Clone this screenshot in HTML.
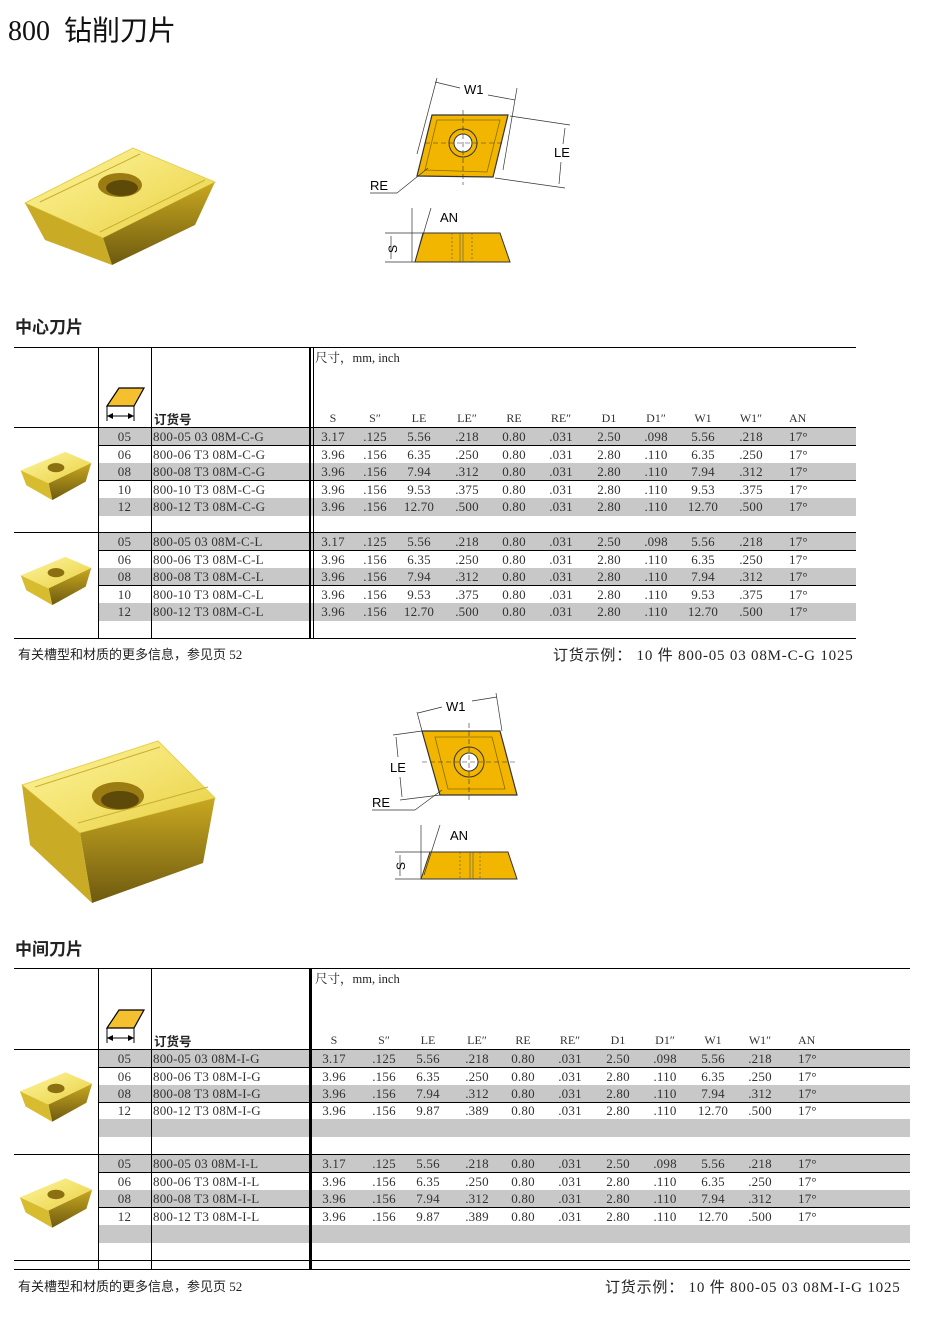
<!DOCTYPE html>
<html><head><meta charset="utf-8">
<style>
*{margin:0;padding:0;box-sizing:border-box}
body{width:938px;height:1325px;background:#fff;position:relative;overflow:hidden;font-family:"Liberation Serif","Noto Serif CJK SC",serif;color:#222}
.a{position:absolute}
.hl{position:absolute;height:1px;background:#000;z-index:5}
.vl{position:absolute;width:1px;background:#000;z-index:5}
.row{position:absolute;left:98px;height:18px;border-bottom:1px solid #000;font-size:13px;line-height:17px;font-family:"Liberation Serif",serif;letter-spacing:0.2px;color:#333}
.g{background:#c8c8c8}
.row span{position:absolute;top:0;width:50px;text-align:center;white-space:nowrap}
.row span.sz{left:0;width:53px}
.row span.cd{left:55px;width:auto;text-align:left}
.t1 .c1{left:210px}.t1 .c2{left:252px}.t1 .c3{left:296px}.t1 .c4{left:344px}.t1 .c5{left:391px}.t1 .c6{left:438px}.t1 .c7{left:486px}.t1 .c8{left:533px}.t1 .c9{left:580px}.t1 .c10{left:628px}.t1 .c11{left:691px;text-align:left}
.t2 .c1{left:211px}.t2 .c2{left:261px}.t2 .c3{left:305px}.t2 .c4{left:354px}.t2 .c5{left:400px}.t2 .c6{left:447px}.t2 .c7{left:495px}.t2 .c8{left:542px}.t2 .c9{left:590px}.t2 .c10{left:637px}.t2 .c11{left:700px;text-align:left}
.hdr{position:absolute;font-size:12.5px}
.hrow{font-family:"Liberation Serif",serif;letter-spacing:0;font-size:12px}
.sec{position:absolute;left:15px;font-family:"Liberation Sans","Noto Sans CJK SC",sans-serif;font-weight:bold;font-size:17px}
.ft{position:absolute;font-size:13px;font-family:"Liberation Serif","Noto Sans CJK SC",serif}
</style></head><body>
<svg width="0" height="0" style="position:absolute">
<defs>
<linearGradient id="gt" x1="0" y1="0" x2="1" y2="1"><stop offset="0" stop-color="#fff6a0"/><stop offset="1" stop-color="#e8d040"/></linearGradient>
<linearGradient id="gf" x1="0" y1="0" x2="0" y2="1"><stop offset="0" stop-color="#c8a820"/><stop offset="1" stop-color="#6e5a10"/></linearGradient>
<symbol id="ins" viewBox="0 0 80 56">
<polygon points="2,22 50,2 78,14 32,36" fill="url(#gt)"/>
<polygon points="32,36 78,14 72,34 36,54" fill="url(#gf)"/>
<polygon points="2,22 32,36 36,54 8,38" fill="#d8bc30"/>
<ellipse cx="40" cy="19" rx="9" ry="5" fill="#8a7010"/>
</symbol>
</defs></svg>

<div class="a" style="left:8px;top:9px;font-size:28px;font-family:'Liberation Serif','Noto Sans CJK SC',serif;color:#111">800&nbsp; <span style="font-family:'Noto Sans CJK SC',sans-serif;font-weight:400">钻削刀片</span></div>

<!-- big insert 1 -->
<svg class="a" style="left:0;top:140px" width="230" height="135">
<polygon points="25,63 133,8 215,42 103,98" fill="url(#gt)" stroke="#e8d050"/>
<polygon points="103,98 215,42 195,85 112,125" fill="url(#gf)"/>
<polygon points="25,63 103,98 112,125 45,100" fill="#c9ab25"/>
<line x1="40" y1="62" x2="140" y2="14" stroke="#c8b030"/>
<line x1="100" y1="92" x2="205" y2="40" stroke="#c8b030"/>
<ellipse cx="120" cy="45" rx="22" ry="12" fill="#9a7c12"/>
<ellipse cx="122" cy="48" rx="16" ry="8" fill="#5e4a08"/>
</svg>

<!-- diagram 1 -->
<svg class="a" style="left:360px;top:70px" width="240" height="210" font-family="Liberation Sans,sans-serif" font-size="13">
<polygon points="57,106 72,45 148,45 133,107" fill="#f2b600" stroke="#333" stroke-width="1.2"/>
<polygon points="65,100 77,50 140,50 127,102" fill="none" stroke="#8a6a00" stroke-width="0.8"/>
<circle cx="103" cy="73" r="14" fill="#f2b600" stroke="#333"/>
<circle cx="103" cy="73" r="9" fill="#fff" stroke="#333"/>
<line x1="65" y1="73" x2="145" y2="73" stroke="#333" stroke-dasharray="5,3" stroke-width="0.6"/>
<line x1="103" y1="40" x2="103" y2="115" stroke="#333" stroke-dasharray="5,3" stroke-width="0.6"/>
<line x1="57" y1="84" x2="77" y2="8" stroke="#333" stroke-width="0.7"/>
<line x1="143" y1="100" x2="157" y2="18" stroke="#333" stroke-width="0.7"/>
<line x1="75" y1="12" x2="100" y2="18" stroke="#333" stroke-width="0.7"/>
<line x1="128" y1="25" x2="155" y2="30" stroke="#333" stroke-width="0.7"/>
<text x="104" y="24">W1</text>
<line x1="150" y1="46" x2="210" y2="55" stroke="#333" stroke-width="0.7"/>
<line x1="135" y1="108" x2="205" y2="118" stroke="#333" stroke-width="0.7"/>
<line x1="205" y1="58" x2="203" y2="74" stroke="#333" stroke-width="0.7"/>
<line x1="201" y1="92" x2="199" y2="114" stroke="#333" stroke-width="0.7"/>
<text x="194" y="87">LE</text>
<text x="10" y="120">RE</text>
<line x1="10" y1="123" x2="37" y2="123" stroke="#333" stroke-width="0.7"/>
<line x1="37" y1="123" x2="68" y2="98" stroke="#333" stroke-width="0.7"/>
<polygon points="55,192 63,163 140,163 150,192" fill="#f2b600" stroke="#333"/>
<line x1="92" y1="163" x2="92" y2="192" stroke="#555" stroke-dasharray="2,2" stroke-width="0.6"/>
<line x1="112" y1="163" x2="112" y2="192" stroke="#555" stroke-dasharray="2,2" stroke-width="0.6"/>
<line x1="100" y1="163" x2="100" y2="192" stroke="#555" stroke-width="0.6"/>
<line x1="103" y1="163" x2="103" y2="192" stroke="#555" stroke-width="0.6"/>
<line x1="52" y1="138" x2="52" y2="192" stroke="#333" stroke-width="0.7"/>
<line x1="55" y1="192" x2="71" y2="138" stroke="#333" stroke-width="0.7"/>
<text x="80" y="152">AN</text>
<line x1="25" y1="163" x2="65" y2="163" stroke="#333" stroke-width="0.7"/>
<line x1="25" y1="192" x2="55" y2="192" stroke="#333" stroke-width="0.7"/>
<line x1="31" y1="166" x2="31" y2="189" stroke="#333" stroke-width="0.7"/>
<text x="26" y="184" font-size="12" transform="rotate(-90 31 178)">S</text>
</svg>

<div class="sec" style="top:313px">中心刀片</div>

<!-- table 1 lines -->
<div class="hl" style="left:14px;top:347px;width:842px"></div>
<div class="hl" style="left:14px;top:427px;width:842px"></div>
<div class="hl" style="left:14px;top:532px;width:842px"></div>
<div class="hl" style="left:14px;top:638px;width:842px"></div>
<div class="vl" style="left:98px;top:347px;height:291px"></div>
<div class="vl" style="left:151px;top:347px;height:291px"></div>
<div class="vl" style="left:309px;top:347px;height:291px;width:2px"></div>
<div class="vl" style="left:313px;top:347px;height:291px;width:1px"></div>
<svg class="a" style="left:103px;top:382px" width="44" height="40">
<polygon points="4,24 16,6 41,6 31,24" fill="#f5c030" stroke="#000" stroke-width="1.2"/>
<line x1="4" y1="24" x2="4" y2="39" stroke="#000"/><line x1="31" y1="24" x2="31" y2="39" stroke="#000"/>
<line x1="4" y1="34" x2="31" y2="34" stroke="#000"/>
<polygon points="4,34 10,31 10,37" fill="#000"/><polygon points="31,34 25,31 25,37" fill="#000"/>
</svg>
<div class="hdr" style="left:154px;top:409px;font-weight:bold;font-family:'Noto Sans CJK SC',sans-serif">订货号</div>
<div class="hdr" style="left:315px;top:348px;font-family:'Liberation Serif','Noto Serif CJK SC',serif">尺寸，mm, inch</div>
<div class="row t1 hrow" style="top:410px;border:none;background:none"><span class="c1">S</span><span class="c2">S″</span><span class="c3">LE</span><span class="c4">LE″</span><span class="c5">RE</span><span class="c6">RE″</span><span class="c7">D1</span><span class="c8">D1″</span><span class="c9">W1</span><span class="c10">W1″</span><span class="c11">AN</span></div>

<div class="row t1 g" style="top:428px;width:758px"><span class="sz">05</span><span class="cd">800-05 03 08M-C-G</span><span class="c1">3.17</span><span class="c2">.125</span><span class="c3">5.56</span><span class="c4">.218</span><span class="c5">0.80</span><span class="c6">.031</span><span class="c7">2.50</span><span class="c8">.098</span><span class="c9">5.56</span><span class="c10">.218</span><span class="c11">17°</span></div>
<div class="row t1" style="top:446px;width:758px"><span class="sz">06</span><span class="cd">800-06 T3 08M-C-G</span><span class="c1">3.96</span><span class="c2">.156</span><span class="c3">6.35</span><span class="c4">.250</span><span class="c5">0.80</span><span class="c6">.031</span><span class="c7">2.80</span><span class="c8">.110</span><span class="c9">6.35</span><span class="c10">.250</span><span class="c11">17°</span></div>
<div class="row t1 g" style="top:463px;width:758px"><span class="sz">08</span><span class="cd">800-08 T3 08M-C-G</span><span class="c1">3.96</span><span class="c2">.156</span><span class="c3">7.94</span><span class="c4">.312</span><span class="c5">0.80</span><span class="c6">.031</span><span class="c7">2.80</span><span class="c8">.110</span><span class="c9">7.94</span><span class="c10">.312</span><span class="c11">17°</span></div>
<div class="row t1" style="top:481px;width:758px"><span class="sz">10</span><span class="cd">800-10 T3 08M-C-G</span><span class="c1">3.96</span><span class="c2">.156</span><span class="c3">9.53</span><span class="c4">.375</span><span class="c5">0.80</span><span class="c6">.031</span><span class="c7">2.80</span><span class="c8">.110</span><span class="c9">9.53</span><span class="c10">.375</span><span class="c11">17°</span></div>
<div class="row t1 g" style="top:498px;width:758px;border:none"><span class="sz">12</span><span class="cd">800-12 T3 08M-C-G</span><span class="c1">3.96</span><span class="c2">.156</span><span class="c3">12.70</span><span class="c4">.500</span><span class="c5">0.80</span><span class="c6">.031</span><span class="c7">2.80</span><span class="c8">.110</span><span class="c9">12.70</span><span class="c10">.500</span><span class="c11">17°</span></div>

<div class="row t1 g" style="top:533px;width:758px"><span class="sz">05</span><span class="cd">800-05 03 08M-C-L</span><span class="c1">3.17</span><span class="c2">.125</span><span class="c3">5.56</span><span class="c4">.218</span><span class="c5">0.80</span><span class="c6">.031</span><span class="c7">2.50</span><span class="c8">.098</span><span class="c9">5.56</span><span class="c10">.218</span><span class="c11">17°</span></div>
<div class="row t1" style="top:551px;width:758px"><span class="sz">06</span><span class="cd">800-06 T3 08M-C-L</span><span class="c1">3.96</span><span class="c2">.156</span><span class="c3">6.35</span><span class="c4">.250</span><span class="c5">0.80</span><span class="c6">.031</span><span class="c7">2.80</span><span class="c8">.110</span><span class="c9">6.35</span><span class="c10">.250</span><span class="c11">17°</span></div>
<div class="row t1 g" style="top:568px;width:758px"><span class="sz">08</span><span class="cd">800-08 T3 08M-C-L</span><span class="c1">3.96</span><span class="c2">.156</span><span class="c3">7.94</span><span class="c4">.312</span><span class="c5">0.80</span><span class="c6">.031</span><span class="c7">2.80</span><span class="c8">.110</span><span class="c9">7.94</span><span class="c10">.312</span><span class="c11">17°</span></div>
<div class="row t1" style="top:586px;width:758px"><span class="sz">10</span><span class="cd">800-10 T3 08M-C-L</span><span class="c1">3.96</span><span class="c2">.156</span><span class="c3">9.53</span><span class="c4">.375</span><span class="c5">0.80</span><span class="c6">.031</span><span class="c7">2.80</span><span class="c8">.110</span><span class="c9">9.53</span><span class="c10">.375</span><span class="c11">17°</span></div>
<div class="row t1 g" style="top:603px;width:758px;border:none"><span class="sz">12</span><span class="cd">800-12 T3 08M-C-L</span><span class="c1">3.96</span><span class="c2">.156</span><span class="c3">12.70</span><span class="c4">.500</span><span class="c5">0.80</span><span class="c6">.031</span><span class="c7">2.80</span><span class="c8">.110</span><span class="c9">12.70</span><span class="c10">.500</span><span class="c11">17°</span></div>

<svg class="a" style="left:18px;top:450px" width="76" height="52"><use href="#ins" width="76" height="52"/></svg>
<svg class="a" style="left:18px;top:555px" width="76" height="52"><use href="#ins" width="76" height="52"/></svg>

<div class="ft" style="left:18px;top:644px">有关槽型和材质的更多信息，参见页 52</div>
<div class="ft" style="left:553px;top:644px;font-size:15px;letter-spacing:0.8px">订货示例： 10 件 800-05 03 08M-C-G 1025</div>

<!-- big insert 2 -->
<svg class="a" style="left:0;top:735px" width="230" height="175">
<polygon points="22,50 158,6 215,63 80,98" fill="url(#gt)" stroke="#e8d050"/>
<polygon points="80,98 215,63 203,128 92,168" fill="url(#gf)"/>
<polygon points="22,50 80,98 92,168 30,110" fill="#c9ab25"/>
<line x1="35" y1="52" x2="160" y2="12" stroke="#c8b030"/>
<line x1="78" y1="88" x2="208" y2="52" stroke="#c8b030"/>
<ellipse cx="118" cy="61" rx="26" ry="14" fill="#9a7c12"/>
<ellipse cx="120" cy="65" rx="19" ry="9" fill="#5e4a08"/>
</svg>

<!-- diagram 2 -->
<svg class="a" style="left:360px;top:685px" width="180" height="200" font-family="Liberation Sans,sans-serif" font-size="13">
<polygon points="62,46 140,46 157,110 80,110" fill="#f2b600" stroke="#333" stroke-width="1.2"/>
<polygon points="75,52 132,52 145,104 88,104" fill="none" stroke="#8a6a00" stroke-width="0.8"/>
<circle cx="109" cy="77" r="15" fill="#f2b600" stroke="#333"/>
<circle cx="109" cy="77" r="9" fill="#fff" stroke="#333"/>
<line x1="62" y1="77" x2="158" y2="77" stroke="#333" stroke-dasharray="5,3" stroke-width="0.6"/>
<line x1="109" y1="38" x2="109" y2="115" stroke="#333" stroke-dasharray="5,3" stroke-width="0.6"/>
<line x1="57" y1="27" x2="62" y2="46" stroke="#333" stroke-width="0.7"/>
<line x1="136" y1="8" x2="142" y2="46" stroke="#333" stroke-width="0.7"/>
<line x1="58" y1="28" x2="82" y2="22" stroke="#333" stroke-width="0.7"/>
<line x1="112" y1="16" x2="137" y2="12" stroke="#333" stroke-width="0.7"/>
<text x="86" y="26">W1</text>
<line x1="33" y1="50" x2="62" y2="46" stroke="#333" stroke-width="0.7"/>
<line x1="40" y1="115" x2="80" y2="110" stroke="#333" stroke-width="0.7"/>
<line x1="36" y1="52" x2="38" y2="72" stroke="#333" stroke-width="0.7"/>
<line x1="40" y1="92" x2="42" y2="112" stroke="#333" stroke-width="0.7"/>
<text x="30" y="87">LE</text>
<text x="12" y="122">RE</text>
<line x1="12" y1="125" x2="55" y2="125" stroke="#333" stroke-width="0.7"/>
<line x1="55" y1="125" x2="82" y2="105" stroke="#333" stroke-width="0.7"/>
<polygon points="61,194 70,167 148,167 157,194" fill="#f2b600" stroke="#333"/>
<line x1="100" y1="167" x2="100" y2="194" stroke="#555" stroke-dasharray="2,2" stroke-width="0.6"/>
<line x1="120" y1="167" x2="120" y2="194" stroke="#555" stroke-dasharray="2,2" stroke-width="0.6"/>
<line x1="110" y1="167" x2="110" y2="194" stroke="#555" stroke-width="0.6"/>
<line x1="113" y1="167" x2="113" y2="194" stroke="#555" stroke-width="0.6"/>
<line x1="61" y1="140" x2="61" y2="194" stroke="#333" stroke-width="0.7"/>
<line x1="64" y1="190" x2="80" y2="140" stroke="#333" stroke-width="0.7"/>
<text x="90" y="155">AN</text>
<line x1="35" y1="167" x2="70" y2="167" stroke="#333" stroke-width="0.7"/>
<line x1="35" y1="194" x2="61" y2="194" stroke="#333" stroke-width="0.7"/>
<line x1="40" y1="170" x2="40" y2="191" stroke="#333" stroke-width="0.7"/>
<text x="35" y="185" font-size="12" transform="rotate(-90 40 180)">S</text>
</svg>

<div class="sec" style="top:935px">中间刀片</div>

<!-- table 2 lines -->
<div class="hl" style="left:14px;top:968px;width:896px"></div>
<div class="hl" style="left:14px;top:1049px;width:896px"></div>
<div class="hl" style="left:14px;top:1154px;width:896px"></div>
<div class="hl" style="left:14px;top:1260px;width:896px"></div>
<div class="hl" style="left:14px;top:1269px;width:896px"></div>
<div class="vl" style="left:98px;top:968px;height:302px"></div>
<div class="vl" style="left:151px;top:968px;height:302px"></div>
<div class="vl" style="left:309px;top:968px;height:302px;width:3px"></div>
<svg class="a" style="left:103px;top:1004px" width="44" height="40">
<polygon points="4,24 16,6 41,6 31,24" fill="#f5c030" stroke="#000" stroke-width="1.2"/>
<line x1="4" y1="24" x2="4" y2="39" stroke="#000"/><line x1="31" y1="24" x2="31" y2="39" stroke="#000"/>
<line x1="4" y1="34" x2="31" y2="34" stroke="#000"/>
<polygon points="4,34 10,31 10,37" fill="#000"/><polygon points="31,34 25,31 25,37" fill="#000"/>
</svg>
<div class="hdr" style="left:154px;top:1031px;font-weight:bold;font-family:'Noto Sans CJK SC',sans-serif">订货号</div>
<div class="hdr" style="left:315px;top:969px;font-family:'Liberation Serif','Noto Serif CJK SC',serif">尺寸，mm, inch</div>
<div class="row t2 hrow" style="top:1032px;border:none;background:none"><span class="c1">S</span><span class="c2">S″</span><span class="c3">LE</span><span class="c4">LE″</span><span class="c5">RE</span><span class="c6">RE″</span><span class="c7">D1</span><span class="c8">D1″</span><span class="c9">W1</span><span class="c10">W1″</span><span class="c11">AN</span></div>

<div class="row t2 g" style="top:1050px;width:812px"><span class="sz">05</span><span class="cd">800-05 03 08M-I-G</span><span class="c1">3.17</span><span class="c2">.125</span><span class="c3">5.56</span><span class="c4">.218</span><span class="c5">0.80</span><span class="c6">.031</span><span class="c7">2.50</span><span class="c8">.098</span><span class="c9">5.56</span><span class="c10">.218</span><span class="c11">17°</span></div>
<div class="row t2" style="top:1068px;width:812px"><span class="sz">06</span><span class="cd">800-06 T3 08M-I-G</span><span class="c1">3.96</span><span class="c2">.156</span><span class="c3">6.35</span><span class="c4">.250</span><span class="c5">0.80</span><span class="c6">.031</span><span class="c7">2.80</span><span class="c8">.110</span><span class="c9">6.35</span><span class="c10">.250</span><span class="c11">17°</span></div>
<div class="row t2 g" style="top:1085px;width:812px"><span class="sz">08</span><span class="cd">800-08 T3 08M-I-G</span><span class="c1">3.96</span><span class="c2">.156</span><span class="c3">7.94</span><span class="c4">.312</span><span class="c5">0.80</span><span class="c6">.031</span><span class="c7">2.80</span><span class="c8">.110</span><span class="c9">7.94</span><span class="c10">.312</span><span class="c11">17°</span></div>
<div class="row t2" style="top:1102px;width:812px;border:none"><span class="sz">12</span><span class="cd">800-12 T3 08M-I-G</span><span class="c1">3.96</span><span class="c2">.156</span><span class="c3">9.87</span><span class="c4">.389</span><span class="c5">0.80</span><span class="c6">.031</span><span class="c7">2.80</span><span class="c8">.110</span><span class="c9">12.70</span><span class="c10">.500</span><span class="c11">17°</span></div>
<div class="row t2 g" style="top:1119px;width:812px;border:none"></div>

<div class="row t2 g" style="top:1155px;width:812px"><span class="sz">05</span><span class="cd">800-05 03 08M-I-L</span><span class="c1">3.17</span><span class="c2">.125</span><span class="c3">5.56</span><span class="c4">.218</span><span class="c5">0.80</span><span class="c6">.031</span><span class="c7">2.50</span><span class="c8">.098</span><span class="c9">5.56</span><span class="c10">.218</span><span class="c11">17°</span></div>
<div class="row t2" style="top:1173px;width:812px"><span class="sz">06</span><span class="cd">800-06 T3 08M-I-L</span><span class="c1">3.96</span><span class="c2">.156</span><span class="c3">6.35</span><span class="c4">.250</span><span class="c5">0.80</span><span class="c6">.031</span><span class="c7">2.80</span><span class="c8">.110</span><span class="c9">6.35</span><span class="c10">.250</span><span class="c11">17°</span></div>
<div class="row t2 g" style="top:1190px;width:812px"><span class="sz">08</span><span class="cd">800-08 T3 08M-I-L</span><span class="c1">3.96</span><span class="c2">.156</span><span class="c3">7.94</span><span class="c4">.312</span><span class="c5">0.80</span><span class="c6">.031</span><span class="c7">2.80</span><span class="c8">.110</span><span class="c9">7.94</span><span class="c10">.312</span><span class="c11">17°</span></div>
<div class="row t2" style="top:1208px;width:812px;border:none"><span class="sz">12</span><span class="cd">800-12 T3 08M-I-L</span><span class="c1">3.96</span><span class="c2">.156</span><span class="c3">9.87</span><span class="c4">.389</span><span class="c5">0.80</span><span class="c6">.031</span><span class="c7">2.80</span><span class="c8">.110</span><span class="c9">12.70</span><span class="c10">.500</span><span class="c11">17°</span></div>
<div class="row t2 g" style="top:1225px;width:812px;border:none"></div>

<svg class="a" style="left:18px;top:1066px" width="76" height="62"><use href="#ins" width="76" height="62"/></svg>
<svg class="a" style="left:18px;top:1172px" width="76" height="62"><use href="#ins" width="76" height="62"/></svg>

<div class="ft" style="left:18px;top:1276px">有关槽型和材质的更多信息，参见页 52</div>
<div class="ft" style="left:605px;top:1276px;font-size:15px;letter-spacing:0.8px">订货示例： 10 件 800-05 03 08M-I-G 1025</div>
</body></html>
